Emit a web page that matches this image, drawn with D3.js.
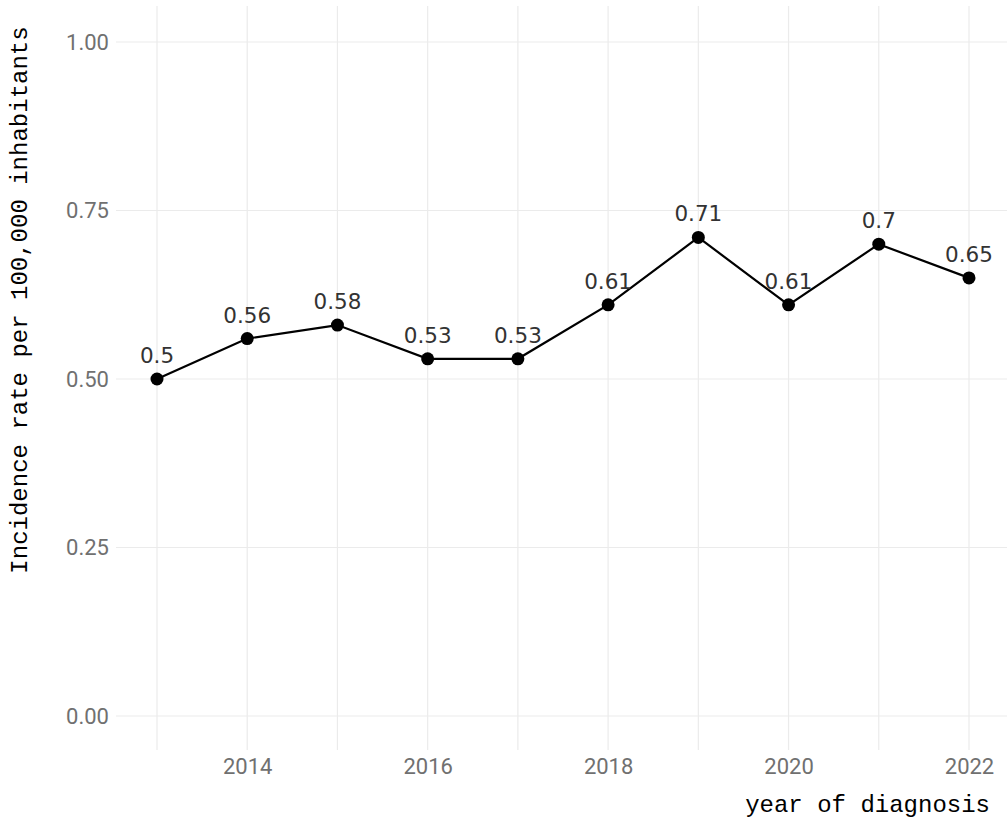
<!DOCTYPE html>
<html>
<head>
<meta charset="utf-8">
<script src="https://cdn.jsdelivr.net/npm/d3@7"></script>
<style>
  body { margin: 0; background: #fff; }
</style>
</head>
<body>
<div id="chart"></div>
<script>
const years = [2013, 2014, 2015, 2016, 2017, 2018, 2019, 2020, 2021, 2022];
const rates = [0.5, 0.56, 0.58, 0.53, 0.53, 0.61, 0.71, 0.61, 0.7, 0.65];
const labels = ['0.5', '0.56', '0.58', '0.53', '0.53', '0.61', '0.71', '0.61', '0.7', '0.65'];
const xTicks = [2014, 2016, 2018, 2020, 2022];
const yTicks = [0, 0.25, 0.5, 0.75, 1];

const width = 1007, height = 820;
const panel = { left: 116, right: 1007, top: 6, bottom: 750 };

const svg = d3.select('#chart').append('svg')
  .attr('width', width)
  .attr('height', height);

const x = d3.scaleLinear().domain([2013, 2022]).range([157, 969]);
const y = d3.scaleLinear().domain([0, 1]).range([716, 42]);

// grid
const grid = svg.append('g');
grid.selectAll('.vgrid')
  .data(years)
  .enter()
  .append('line')
  .attr('x1', d => x(d)).attr('x2', d => x(d))
  .attr('y1', panel.top).attr('y2', panel.bottom)
  .style('stroke', '#ebebeb')
  .style('stroke-width', 1.2);
grid.selectAll('.hgrid')
  .data(yTicks)
  .enter()
  .append('line')
  .attr('x1', panel.left).attr('x2', panel.right)
  .attr('y1', d => y(d)).attr('y2', d => y(d))
  .style('stroke', '#ebebeb')
  .style('stroke-width', 1.2);

// axes
const yAxis = svg.append('g')
  .attr('transform', 'translate(' + (panel.left - 7) + ',0)')
  .call(d3.axisLeft(y).tickValues(yTicks).tickFormat(d3.format('.2f')).tickSize(0).tickPadding(0));
const xAxis = svg.append('g')
  .attr('transform', 'translate(0,' + panel.bottom + ')')
  .call(d3.axisBottom(x).tickValues(xTicks).tickFormat(d3.format('d')).tickSize(0).tickPadding(8));
[yAxis, xAxis].forEach(a => {
  a.select('.domain').remove();
  a.selectAll('text')
    .style('font-family', 'Roboto, sans-serif')
    .style('font-size', '22px')
    .style('fill', '#707070');
});

// line + points
const line = d3.line().x((d, i) => x(years[i])).y(d => y(d));
svg.append('path')
  .datum(rates)
  .attr('d', line)
  .style('fill', 'none')
  .style('stroke', '#000')
  .style('stroke-width', 2.2);

svg.append('g')
  .selectAll('circle')
  .data(rates)
  .enter()
  .append('circle')
  .attr('cx', (d, i) => x(years[i]))
  .attr('cy', d => y(d))
  .attr('r', 6.5)
  .style('fill', '#000');

svg.append('g')
  .selectAll('text')
  .data(rates)
  .enter()
  .append('text')
  .attr('x', (d, i) => x(years[i]))
  .attr('y', d => y(d) - 16)
  .attr('text-anchor', 'middle')
  .style('font-family', '"DejaVu Sans", sans-serif')
  .style('font-size', '21.5px')
  .style('fill', '#333')
  .text((d, i) => labels[i]);

// axis titles
svg.append('text')
  .attr('transform', 'translate(27,300) rotate(-90)')
  .attr('text-anchor', 'middle')
  .style('font-family', '"Liberation Mono", monospace')
  .style('font-size', '24px')
  .style('fill', '#000')
  .text('Incidence rate per 100,000 inhabitants');

svg.append('text')
  .attr('x', 990)
  .attr('y', 812)
  .attr('text-anchor', 'end')
  .style('font-family', '"Liberation Mono", monospace')
  .style('font-size', '24px')
  .style('fill', '#000')
  .text('year of diagnosis');
</script>
</body>
</html>
